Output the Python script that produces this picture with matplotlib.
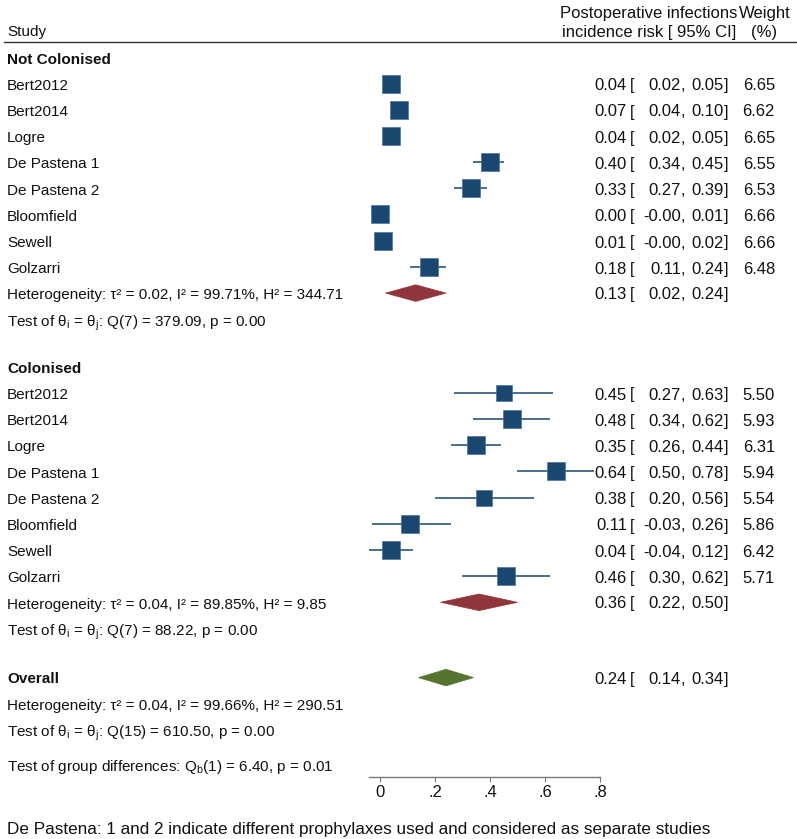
import numpy as np
import matplotlib
matplotlib.use('Agg')
import matplotlib.pyplot as plt
from matplotlib.patches import Polygon

plt.rcParams['font.family'] = ['Liberation Sans', 'DejaVu Sans']

# data
studies = ['Bert2012', 'Bert2014', 'Logre', 'De Pastena 1', 'De Pastena 2',
           'Bloomfield', 'Sewell', 'Golzarri']

nc_est = [0.04, 0.07, 0.04, 0.40, 0.33, 0.00, 0.01, 0.18]
nc_lo = [0.02, 0.04, 0.02, 0.34, 0.27, -0.0, -0.0, 0.11]
nc_hi = [0.05, 0.10, 0.05, 0.45, 0.39, 0.01, 0.02, 0.24]
nc_w = [6.65, 6.62, 6.65, 6.55, 6.53, 6.66, 6.66, 6.48]

c_est = [0.45, 0.48, 0.35, 0.64, 0.38, 0.11, 0.04, 0.46]
c_lo = [0.27, 0.34, 0.26, 0.50, 0.20, -0.03, -0.04, 0.30]
c_hi = [0.63, 0.62, 0.44, 0.78, 0.56, 0.26, 0.12, 0.62]
c_w = [5.50, 5.93, 6.31, 5.94, 5.54, 5.86, 6.42, 5.71]

group_names = ['Not Colonised', 'Colonised', 'Overall']
pooled_est = [0.13, 0.36, 0.24]
pooled_lo = [0.02, 0.22, 0.14]
pooled_hi = [0.24, 0.50, 0.34]
tau2 = ['0.02', '0.04', '0.04']
i2 = ['99.71', '89.85', '99.66']
h2 = ['344.71', '9.85', '290.51']
q_df = [7, 7, 15]
q_val = ['379.09', '88.22', '610.50']
q_p = ['0.00', '0.00', '0.00']
qb_text = r'Test of group differences: Q$_\mathregular{b}$(1) = 6.40, p = 0.01'
footnote = 'De Pastena: 1 and 2 indicate different prophylaxes used and considered as separate studies'

xticks = [0, 0.2, 0.4, 0.6, 0.8]
xticklabels = ['0', '.2', '.4', '.6', '.8']

NAVY = '#1a476f'
MAROON = '#90353b'
GREEN = '#55752f'
TXT = '#111111'
FS = 11      # left column
FSR = 12     # right columns

W, H = 797, 839
fig = plt.figure(figsize=(W / 100, H / 100), dpi=100)
ax = fig.add_axes([0, 0, 1, 1])
# x in effect units (0 -> 380px, 0.8 -> 600px), y in pixel rows from the top
ax.set_xlim(-380 / 275, (W - 380) / 275)
ax.set_ylim(H, 0)


def px(x):
    return (x - 380) / 275


def txt(x, y, s, ha='left', fs=FS, **kw):
    ax.text(px(x), y + fs * 0.5, s, ha=ha, va='baseline', fontsize=fs,
            color=TXT, **kw)


def ci_cols(y, e, lo, hi, w=None):
    txt(627, y, f'{e:.2f}', ha='right', fs=FSR)
    txt(630, y, '[', fs=FSR)
    txt(681, y, f'{lo:.2f}', ha='right', fs=FSR)
    txt(681, y, ',', fs=FSR)
    txt(723.5, y, f'{hi:.2f}', ha='right', fs=FSR)
    txt(723.5, y, ']', fs=FSR)
    if w is not None:
        txt(775, y, f'{w:.2f}', ha='right', fs=FSR)


# header
txt(7, 30.5, 'Study')
txt(737, 12, 'Postoperative infections', ha='right', fs=FSR)
txt(736, 30.5, 'incidence risk [ 95% CI]', ha='right', fs=FSR)
txt(765, 12, 'Weight', ha='center', fs=FSR)
txt(764, 30.5, '(%)', ha='center', fs=FSR)
ax.plot([px(4), px(W)], [42, 42], color='#333333', lw=1.0)

pitch = 26.2
starts = [58.1, 367.3]
groups = [(nc_est, nc_lo, nc_hi, nc_w), (c_est, c_lo, c_hi, c_w)]


def het_lines(g, y):
    txt(7, y, f'Heterogeneity: τ² = {tau2[g]}, I² = {i2[g]}%, H² = {h2[g]}')
    txt(7, y + pitch * 1.01,
        r'Test of θ$_\mathregular{i}$ = θ$_\mathregular{j}$: ' + f'Q({q_df[g]}) = {q_val[g]}, p = {q_p[g]}')


def diamond(g, y, color):
    poly = Polygon([[pooled_lo[g], y], [pooled_est[g], y - 8.3],
                    [pooled_hi[g], y], [pooled_est[g], y + 8.3]],
                   closed=True, facecolor=color, edgecolor=color, lw=0.5)
    ax.add_patch(poly)
    ci_cols(y, pooled_est[g], pooled_lo[g], pooled_hi[g])


for g, (est, lo, hi, wt) in enumerate(groups):
    y0 = starts[g]
    txt(7, y0, group_names[g], fontweight='bold')
    for k, name in enumerate(studies):
        y = y0 + pitch * (k + 1)
        txt(7, y, name)
        ax.plot([lo[k], hi[k]], [y - 0.8, y - 0.8], color=NAVY, lw=1.1,
                solid_capstyle='butt', zorder=2)
        side = 7.12 * np.sqrt(wt[k]) * 0.72
        ax.plot(est[k], y - 0.8, marker='s', ms=side, color=NAVY,
                mec='#4a73a0', mew=0.5, zorder=3)
        ci_cols(y, est[k], lo[k], hi[k], wt[k])
    y_het = y0 + pitch * 9
    diamond(g, y_het - 0.8, MAROON)
    het_lines(g, y_het)

# overall
y_ov = 677.6
txt(7, y_ov, group_names[2], fontweight='bold')
diamond(2, y_ov, GREEN)
het_lines(2, y_ov + 26.5)
txt(7, 765, qb_text)
txt(7, 828, footnote, fs=12.3)

# axis
for s in ['left', 'right', 'top']:
    ax.spines[s].set_visible(False)
ax.spines['bottom'].set_position(('data', 777))
ax.spines['bottom'].set_bounds(-0.04, 0.8)
ax.spines['bottom'].set_color('#777777')
ax.spines['bottom'].set_linewidth(1.0)
ax.set_xticks(xticks)
ax.set_xticklabels(xticklabels)
ax.tick_params(axis='x', direction='out', length=3.6, width=0.8, color='#777777',
               pad=2.5, labelsize=FSR, labelcolor=TXT)
ax.set_yticks([])

fig.savefig('out.png', dpi=100)
